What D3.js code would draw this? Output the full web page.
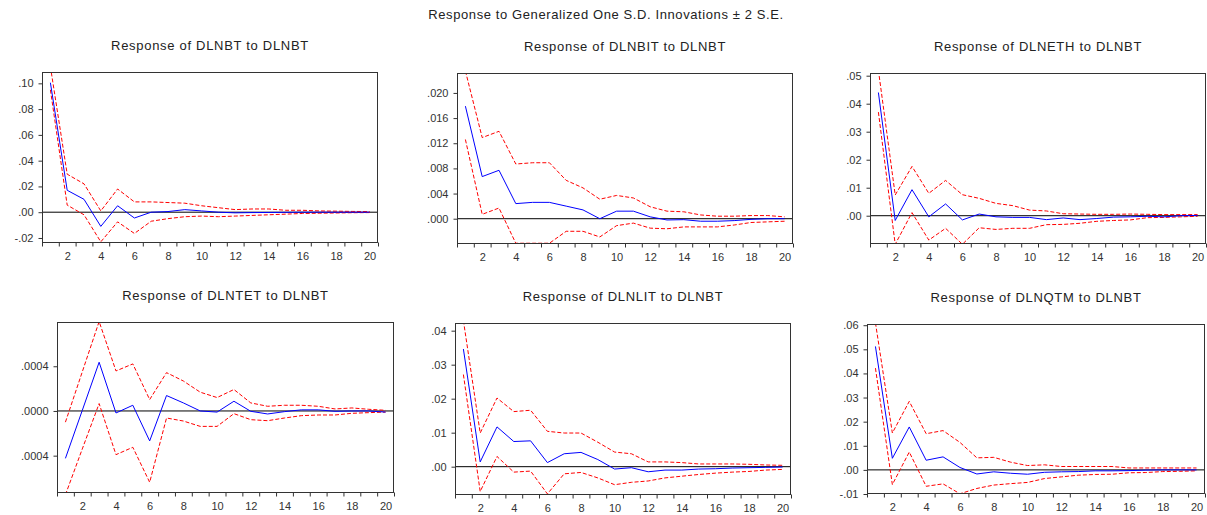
<!DOCTYPE html>
<html>
<head>
<meta charset="utf-8">
<script src="https://cdn.jsdelivr.net/npm/d3@7"></script>
<style>
  body { margin: 0; background: #fff; }
  svg { display: block; font-family: "Liberation Sans", Arial, sans-serif; }
  .tick text { fill: #333; font-size: 11px; }
  .tick line { stroke: #333; }
  .domain { display: none; }
</style>
</head>
<body>
<svg id="chart" width="1207" height="515"></svg>
<script>
const mainTitle = "Response to Generalized One S.D. Innovations \u00b1 2 S.E.";
const periods = [1, 2, 3, 4, 5, 6, 7, 8, 9, 10, 11, 12, 13, 14, 15, 16, 17, 18, 19, 20];
const xLabels = [2, 4, 6, 8, 10, 12, 14, 16, 18, 20];

const titles = [
  "Response of DLNBT to DLNBT",
  "Response of DLNBIT to DLNBT",
  "Response of DLNETH to DLNBT",
  "Response of DLNTET to DLNBT",
  "Response of DLNLIT to DLNBT",
  "Response of DLNQTM to DLNBT"
];

// response, upper band, lower band for each panel
const respBT = [0.1005, 0.017, 0.010, -0.011, 0.005, -0.0045, 0.000, 0.0005, 0.002, 0.001, 0.000, -0.0005, -0.0003, -0.0002, -0.0001, 0.0000, 0.0000, 0.0000, 0.0000, 0.0000];
const upBT = [0.113, 0.0295, 0.022, 0.001, 0.018, 0.008, 0.008, 0.0075, 0.007, 0.005, 0.0035, 0.002, 0.0025, 0.0025, 0.0015, 0.0015, 0.001, 0.0008, 0.0006, 0.0005];
const loBT = [0.095, 0.0055, -0.002, -0.023, -0.0075, -0.0165, -0.007, -0.005, -0.0035, -0.003, -0.0035, -0.003, -0.0025, -0.002, -0.0015, -0.001, -0.0008, -0.0006, -0.0004, -0.0003];

const respBIT = [0.0179, 0.0067, 0.0077, 0.0024, 0.0026, 0.0026, 0.002, 0.0014, 0.0000, 0.0012, 0.0012, 0.0003, -0.0002, -0.00015, -0.0004, -0.0004, -0.0003, -0.0001, 0.0000, 0.0000];
const upBIT = [0.0235, 0.0129, 0.0139, 0.0087, 0.0089, 0.0089, 0.0061, 0.0049, 0.0031, 0.0037, 0.0033, 0.0019, 0.0012, 0.0011, 0.0006, 0.0004, 0.0004, 0.0005, 0.0005, 0.0003];
const loBIT = [0.0126, 0.0007, 0.0017, -0.0039, -0.0039, -0.0039, -0.002, -0.002, -0.0029, -0.0011, -0.0007, -0.0015, -0.0016, -0.0013, -0.0013, -0.0013, -0.001, -0.0006, -0.0005, -0.0004];

const respETH = [0.044, -0.0017, 0.0093, -0.0004, 0.0042, -0.0015, 0.0006, -0.0004, -0.0006, -0.0006, -0.0014, -0.0008, -0.0014, -0.001, -0.0005, -0.0004, -0.0002, -0.0004, 0.0000, 0.0001];
const upETH = [0.052, 0.0074, 0.0176, 0.008, 0.0126, 0.0075, 0.0062, 0.0044, 0.0036, 0.002, 0.0017, 0.0007, 0.0006, 0.0005, 0.0005, 0.0006, 0.0005, 0.0004, 0.0004, 0.0004];
const loETH = [0.037, -0.0102, 0.0011, -0.0087, -0.0045, -0.0102, -0.0043, -0.0049, -0.0045, -0.0045, -0.0032, -0.0031, -0.0027, -0.002, -0.0017, -0.0015, -0.0007, -0.0006, -0.0004, -0.0002];

const respTET = [-0.000424, 0.000005, 0.000436, -0.000018, 0.000051, -0.000268, 0.000138, 0.000072, 0.0, -0.00001, 0.000087, -0.000003, -0.000027, -0.000006, 0.00001, 0.00001, -0.000003, 0.0, 0.0, -0.00001];
const upTET = [-0.0001, 0.00035, 0.0008, 0.000358, 0.000421, 0.000102, 0.000343, 0.000268, 0.000168, 0.00012, 0.000192, 0.000072, 0.000042, 0.000051, 0.000051, 0.000042, 0.000018, 0.000027, 0.000015, 0.000006];
const loTET = [-0.00075, -0.00034, 0.000066, -0.000391, -0.000325, -0.000638, -0.000063, -0.00009, -0.000138, -0.000138, -0.000024, -0.000078, -0.000087, -0.000063, -0.000042, -0.000036, -0.000036, -0.000021, -0.000015, -0.00001];

const respLIT = [0.0346, 0.0014, 0.0117, 0.0074, 0.0076, 0.0012, 0.0038, 0.0042, 0.0021, -0.0007, -0.0003, -0.0015, -0.001, -0.001, -0.0007, -0.0006, -0.0004, -0.0003, -0.0002, -0.0001];
const upLIT = [0.043, 0.0099, 0.0202, 0.0162, 0.0166, 0.0104, 0.0099, 0.0099, 0.0072, 0.0043, 0.0038, 0.0014, 0.0014, 0.0012, 0.0008, 0.0008, 0.0008, 0.0007, 0.0005, 0.0004];
const loLIT = [0.0271, -0.0073, 0.003, -0.0016, -0.0013, -0.008, -0.0021, -0.0017, -0.0033, -0.0053, -0.0046, -0.0042, -0.0033, -0.0028, -0.0023, -0.0019, -0.0016, -0.0014, -0.001, -0.0008];

const respQTM = [0.0512, 0.0048, 0.0178, 0.004, 0.0054, 0.001, -0.0017, -0.0008, -0.0014, -0.0018, -0.001, -0.0008, -0.0007, -0.0004, -0.0004, -0.0003, -0.0001, 0.0000, 0.0000, 0.0000];
const upQTM = [0.061, 0.0153, 0.0284, 0.015, 0.0163, 0.0114, 0.005, 0.0052, 0.0032, 0.0018, 0.0021, 0.0014, 0.0014, 0.0014, 0.0014, 0.0008, 0.0008, 0.0008, 0.0008, 0.0008];
const loQTM = [0.0422, -0.0061, 0.0074, -0.0068, -0.0058, -0.0099, -0.0077, -0.0063, -0.0057, -0.0052, -0.0036, -0.0029, -0.0022, -0.0019, -0.0018, -0.0012, -0.0011, -0.0007, -0.0006, -0.0004];

// y-axis ranges and ticks
const yDomains = [
  [-0.0239, 0.1088],
  [-0.00402, 0.02317],
  [-0.0101, 0.05096],
  [-0.000734, 0.000796],
  [-0.00833, 0.04226],
  [-0.0100, 0.0605]
];
const yTicks = [
  [-0.02, 0, 0.02, 0.04, 0.06, 0.08, 0.10],
  [0, 0.004, 0.008, 0.012, 0.016, 0.020],
  [0, 0.01, 0.02, 0.03, 0.04, 0.05],
  [-0.0004, 0, 0.0004],
  [0, 0.01, 0.02, 0.03, 0.04],
  [-0.01, 0, 0.01, 0.02, 0.03, 0.04, 0.05, 0.06]
];
const yTickLabels = [
  ["-.02", ".00", ".02", ".04", ".06", ".08", ".10"],
  [".000", ".004", ".008", ".012", ".016", ".020"],
  [".00", ".01", ".02", ".03", ".04", ".05"],
  [".0004", ".0000", ".0004"],
  [".00", ".01", ".02", ".03", ".04"],
  ["-.01", ".00", ".01", ".02", ".03", ".04", ".05", ".06"]
];

const responses = [respBT, respBIT, respETH, respTET, respLIT, respQTM];
const uppers = [upBT, upBIT, upETH, upTET, upLIT, upQTM];
const lowers = [loBT, loBIT, loETH, loTET, loLIT, loQTM];

// frame boxes: left, right, top, bottom
const frames = [
  [42, 378, 72, 243],
  [457, 793, 73, 244],
  [870, 1206, 73, 244],
  [57, 394, 322, 493],
  [455, 791, 323, 495],
  [867, 1205, 324, 494]
];

const svg = d3.select("#chart");

svg.append("text")
  .attr("x", 606)
  .attr("y", 19)
  .attr("text-anchor", "middle")
  .attr("font-size", 13)
  .attr("letter-spacing", "0.6px")
  .attr("fill", "#222")
  .text(mainTitle);

frames.forEach((f, i) => {
  const [left, right, top, bottom] = f;
  const g = svg.append("g");

  const x = d3.scaleLinear().domain([0.5, 20.5]).range([left, right]);
  const y = d3.scaleLinear().domain(yDomains[i]).range([bottom, top]);

  g.append("text")
    .attr("x", (left + right) / 2)
    .attr("y", top - 22)
    .attr("text-anchor", "middle")
    .attr("font-size", 13)
    .attr("letter-spacing", "0.7px")
    .attr("fill", "#222")
    .text(titles[i]);

  const clipId = "clip" + i;
  g.append("clipPath").attr("id", clipId)
    .append("rect")
    .attr("x", left).attr("y", top)
    .attr("width", right - left).attr("height", bottom - top);

  const plot = g.append("g").attr("clip-path", `url(#${clipId})`);

  plot.append("line")
    .attr("x1", left).attr("x2", right)
    .attr("y1", y(0)).attr("y2", y(0))
    .attr("stroke", "#000")
    .attr("stroke-width", 1);

  const line = d3.line()
    .x((d, j) => x(periods[j]))
    .y((d) => y(d));

  [uppers[i], lowers[i]].forEach((band) => {
    plot.append("path")
      .datum(band)
      .attr("d", line)
      .attr("fill", "none")
      .attr("stroke", "#ff0000")
      .attr("stroke-width", 1)
      .attr("stroke-dasharray", "4,2");
  });

  plot.append("path")
    .datum(responses[i])
    .attr("d", line)
    .attr("fill", "none")
    .attr("stroke", "#0000ff")
    .attr("stroke-width", 1);

  // frame
  g.append("rect")
    .attr("x", left + 0.5).attr("y", top + 0.5)
    .attr("width", right - left - 1).attr("height", bottom - top - 1)
    .attr("fill", "none")
    .attr("stroke", "#333")
    .attr("stroke-width", 1);

  // y axis
  const yAxis = d3.axisLeft(y)
    .tickValues(yTicks[i])
    .tickSize(4)
    .tickPadding(5)
    .tickFormat((d, j) => yTickLabels[i][j]);
  g.append("g")
    .attr("transform", `translate(${left + 0.5},0)`)
    .call(yAxis);

  // x tick marks at period boundaries
  const boundaries = periods.map((p) => p - 0.5).concat([20.5]);
  g.append("g")
    .attr("transform", `translate(0,${bottom - 0.5})`)
    .call(d3.axisBottom(x).tickValues(boundaries).tickSize(4).tickFormat(""));

  // x labels at even periods
  g.append("g")
    .attr("transform", `translate(0,${bottom - 0.5})`)
    .call(d3.axisBottom(x).tickValues(xLabels).tickSize(0).tickPadding(10).tickFormat(d3.format("d")));
});
</script>
</body>
</html>
